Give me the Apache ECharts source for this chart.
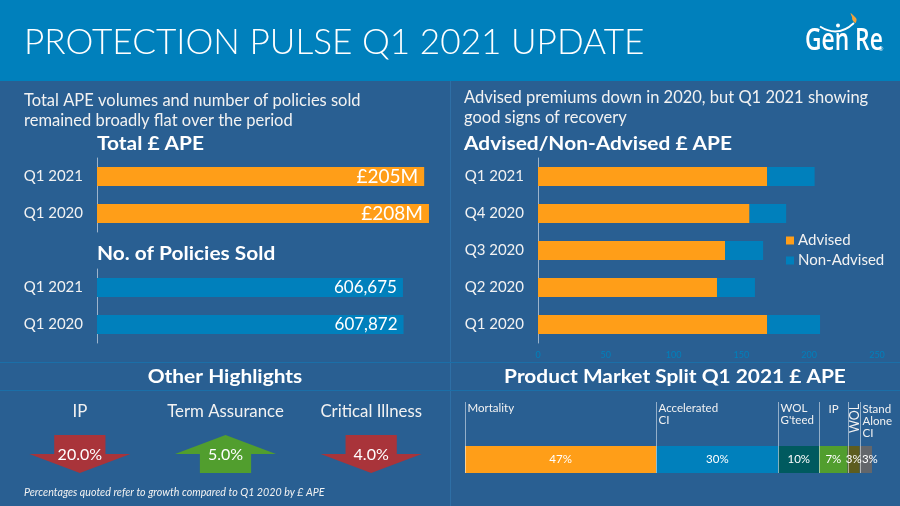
<!DOCTYPE html>
<html>
<head>
<meta charset="utf-8">
<style>
html, body { margin: 0; padding: 0; background: #295F92; }
#main { width: 900px; height: 506px; }
</style>
<script src="https://cdn.jsdelivr.net/npm/echarts@6/dist/echarts.min.js"></script>
</head>
<body>
<div id="main"></div>
<script>
// data
const apeCategories = ['Q1 2021', 'Q1 2020'];
const apeValues = [205, 208];
const policyCategories = ['Q1 2021', 'Q1 2020'];
const policyValues = [606675, 607872];
const quarters = ['Q1 2021', 'Q4 2020', 'Q3 2020', 'Q2 2020', 'Q1 2020'];
const advisedValues = [169, 156, 138, 132, 169];
const nonAdvisedValues = [35, 27, 28, 28, 39];
const highlightNames = ['IP', 'Term Assurance', 'Critical Illness'];
const highlightGrowth = [-20, 5, -4];
const productNames = ['Mortality', 'Accelerated\nCI', "WOL\nG'teed", 'IP', 'WOL', 'Stand\nAlone\nCI'];
const productShares = [47, 30, 10, 7, 3, 3];

const ORANGE = '#FF9E18';
const BLUE = '#0080BC';
const BODY = '#295F92';
const RED = '#A9343A';
const GREEN = '#519E2E';
const productColors = [ORANGE, BLUE, '#005A5F', GREEN, '#5D5D1F', '#63666A'];
const FONT = 'Lato';

const ARROW_DOWN = 'path://M34 0H102V19H135L68 38L1 19H34Z';
const ARROW_UP = 'path://M68 0L135 19H102V38H34V19H1Z';

const chart = echarts.init(document.getElementById('main'), null, { renderer: 'canvas' });

// headings in the reference are letter-spaced, so the text gets stretched a bit
function heading(text, x, y, align) {
    return {
        type: 'text', silent: true, x: x, y: y, scaleX: 1.16,
        style: { x: 0, y: 0, text: text, fill: '#fff', font: 'bold 18px Lato', align: align || 'left', verticalAlign: 'middle' }
    };
}

function subtitle(text, x, y) {
    return {
        text: text, left: x, top: y, padding: 0,
        textStyle: { color: '#F2F2F2', fontFamily: FONT, fontSize: 16.5, fontWeight: 'normal', lineHeight: 20 }
    };
}

function catAxis(gridIndex, data) {
    return {
        type: 'category', gridIndex: gridIndex, data: data, inverse: true,
        axisLine: { lineStyle: { color: '#9DB4CC', width: 1 } },
        axisTick: { show: false },
        axisLabel: { color: '#F2F2F2', fontFamily: FONT, fontSize: 15, margin: 14, padding: [3, 0, 0, 0] }
    };
}

function hiddenValueAxis(gridIndex, max) {
    return { type: 'value', gridIndex: gridIndex, min: 0, max: max, show: false, splitLine: { show: false } };
}

// leader lines and names above the split bar
let running = 0;
const productStarts = productShares.map(function (v) {
    const start = running;
    running += v;
    return [start, 0];
});

function renderProductLabel(params, api) {
    const i = params.dataIndex;
    const p = api.coord([api.value(0), 0]);
    const x = Math.round(p[0]) + 0.5;
    const name = productNames[i];
    const line = {
        type: 'line',
        shape: { x1: x, y1: 402, x2: x, y2: 473 },
        style: { stroke: 'rgba(255,255,255,0.5)', lineWidth: 1 }
    };
    const textStyle = { text: name, fill: '#F2F2F2', font: '11.5px Lato', lineHeight: 12, x: x + 2, y: 402, verticalAlign: 'top' };
    let text = { type: 'text', style: textStyle };
    if (name === 'IP') {
        textStyle.x = x + 14;
        textStyle.align = 'center';
        textStyle.y = 403;
    } else if (name === 'WOL') {
        textStyle.x = 0;
        textStyle.y = 0;
        textStyle.align = 'center';
        textStyle.verticalAlign = 'middle';
        textStyle.font = '12.5px Lato';
        text = { type: 'text', style: textStyle, x: x + 6.5, y: 418.5, rotation: Math.PI / 2 };
    } else if (name.indexOf('Stand') === 0) {
        textStyle.y = 403;
    }
    return { type: 'group', children: [line, text] };
}

const productSeries = productNames.map(function (name, i) {
    return {
        name: 'split' + i, type: 'bar', stack: 'split', xAxisIndex: 4, yAxisIndex: 4,
        barWidth: 27, data: [productShares[i]],
        itemStyle: { color: productColors[i] },
        label: {
            show: true, position: 'inside', color: '#fff', fontFamily: FONT, fontSize: 11.5,
            formatter: '{c}%',
            // last segment is too thin, its label sits to the right so it clears the WOL one
            offset: i === productNames.length - 1 ? [4, 0] : [0, 0]
        }
    };
});

const option = {
    backgroundColor: BODY,
    animation: false,
    textStyle: { fontFamily: FONT },
    title: [
        {
            text: 'PROTECTION PULSE Q1 2021 UPDATE', left: 24, top: 21, padding: 0,
            textStyle: { color: '#fff', fontFamily: FONT, fontSize: 35.2, fontWeight: 300, lineHeight: 44 }
        },
        subtitle('Total APE volumes and number of policies sold\nremained broadly flat over the period', 24, 91),
        subtitle('Advised premiums down in 2020, but Q1 2021 showing\ngood signs of recovery', 464, 88),
        {
            text: 'Percentages quoted refer to growth compared to Q1 2020 by £ APE', left: 24, top: 486, padding: 0,
            textStyle: { color: '#F2F2F2', fontFamily: FONT, fontSize: 10.7, fontStyle: 'italic', fontWeight: 'normal', lineHeight: 13 }
        }
    ],
    legend: {
        data: ['Advised', 'Non-Advised'], orient: 'vertical', left: 786, top: 233, padding: 0,
        itemWidth: 8, itemHeight: 8, itemGap: 5, icon: 'rect',
        textStyle: { color: '#F2F2F2', fontFamily: FONT, fontSize: 15, padding: [0, 0, 0, -1] }
    },
    grid: [
        { left: 97, top: 158, width: 399, height: 74 },
        { left: 97, top: 269, width: 353, height: 74 },
        { left: 538, top: 158, width: 339, height: 185 },
        { left: 7, top: 435, width: 437, height: 38 },
        { left: 465, top: 446, width: 407, height: 27 }
    ],
    xAxis: [
        hiddenValueAxis(0, 250),
        hiddenValueAxis(1, 700000),
        {
            type: 'value', gridIndex: 2, min: 0, max: 250, interval: 50,
            axisLine: { show: false }, axisTick: { show: false }, splitLine: { show: false },
            axisLabel: { color: BLUE, fontFamily: FONT, fontSize: 9, margin: 8 }
        },
        {
            type: 'category', gridIndex: 3, data: highlightNames, position: 'top',
            axisLine: { show: false }, axisTick: { show: false },
            axisLabel: { color: '#F2F2F2', fontFamily: FONT, fontSize: 16.8, margin: 15, interval: 0, hideOverlap: false }
        },
        hiddenValueAxis(4, 100)
    ],
    yAxis: [
        catAxis(0, apeCategories),
        catAxis(1, policyCategories),
        catAxis(2, quarters),
        { type: 'value', gridIndex: 3, min: -1, max: 1, show: false, splitLine: { show: false } },
        { type: 'category', gridIndex: 4, data: ['Split'], show: false }
    ],
    series: [
        {
            name: 'Total APE', type: 'bar', xAxisIndex: 0, yAxisIndex: 0, barWidth: 19,
            data: apeValues, itemStyle: { color: ORANGE },
            label: {
                show: true, position: 'insideRight', distance: 6, color: '#fff', fontFamily: FONT, fontSize: 19,
                formatter: function (p) { return '£' + p.value + 'M'; }
            }
        },
        {
            name: 'Policies', type: 'bar', xAxisIndex: 1, yAxisIndex: 1, barWidth: 19,
            data: policyValues, itemStyle: { color: BLUE },
            label: {
                show: true, position: 'insideRight', distance: 6, color: '#fff', fontFamily: FONT, fontSize: 17,
                formatter: function (p) { return p.value.toLocaleString('en-GB'); }
            }
        },
        {
            name: 'Advised', type: 'bar', stack: 'ape', xAxisIndex: 2, yAxisIndex: 2, barWidth: 19,
            data: advisedValues, itemStyle: { color: ORANGE }
        },
        {
            name: 'Non-Advised', type: 'bar', stack: 'ape', xAxisIndex: 2, yAxisIndex: 2, barWidth: 19,
            data: nonAdvisedValues, itemStyle: { color: BLUE }
        },
        {
            name: 'Highlights', type: 'scatter', xAxisIndex: 3, yAxisIndex: 3, symbolSize: [101, 38],
            data: highlightGrowth.map(function (v, i) {
                return {
                    value: [i, 0, v],
                    symbol: v < 0 ? ARROW_DOWN : ARROW_UP,
                    itemStyle: { color: v < 0 ? RED : GREEN, opacity: 1 }
                };
            }),
            label: {
                show: true, position: 'inside', color: '#fff', fontFamily: FONT, fontSize: 16, offset: [0, 1],
                formatter: function (p) { return Math.abs(p.value[2]).toFixed(1) + '%'; }
            }
        }
    ].concat(productSeries, [
        {
            name: 'Product labels', type: 'custom', xAxisIndex: 4, yAxisIndex: 4, z: 5,
            data: productStarts, encode: { x: 0, y: 1 }, renderItem: renderProductLabel
        }
    ]),
    graphic: [
        { type: 'rect', z: -10, silent: true, shape: { x: 0, y: 0, width: 900, height: 81 }, style: { fill: BLUE } },
        { type: 'line', z: -5, silent: true, shape: { x1: 450.5, y1: 81, x2: 450.5, y2: 506 }, style: { stroke: '#2E6FA6', lineWidth: 1 } },
        { type: 'line', z: -5, silent: true, shape: { x1: 0, y1: 362.5, x2: 900, y2: 362.5 }, style: { stroke: '#1B6FA8', lineWidth: 1 } },
        { type: 'line', z: -5, silent: true, shape: { x1: 0, y1: 390.5, x2: 900, y2: 390.5 }, style: { stroke: '#1B6FA8', lineWidth: 1 } },
        heading('Total £ APE', 97, 144),
        heading('No. of Policies Sold', 97, 254),
        heading('Advised/Non-Advised £ APE', 464, 144),
        heading('Other Highlights', 225, 377, 'center'),
        heading('Product Market Split Q1 2021 £ APE', 675, 377, 'center'),
        // Gen Re logo
        { type: 'text', silent: true, x: 805, y: 26, scaleX: 0.76, style: { x: 0, y: 0, text: 'Gen Re', fill: '#fff', font: '600 30px "Open Sans"' } },
        { type: 'text', silent: true, style: { x: 878.5, y: 46, text: '®', fill: '#fff', font: '6px Lato' } },
        { type: 'circle', silent: true, shape: { cx: 838, cy: 25.5, r: 2 }, style: { fill: '#fff' } },
        { type: 'bezierCurve', silent: true, shape: { x1: 820, y1: 26.5, x2: 854, y2: 23, cpx1: 838, cpy1: 38 }, style: { fill: 'none', stroke: '#fff', lineWidth: 1.8 } },
        { type: 'polygon', silent: true, shape: { points: [[850.5, 13], [853, 15], [856.5, 19], [855.5, 23], [852.5, 20], [852, 17]], smooth: 0.3 }, style: { fill: '#F2A23A' } }
    ]
};

chart.setOption(option);
</script>
</body>
</html>
